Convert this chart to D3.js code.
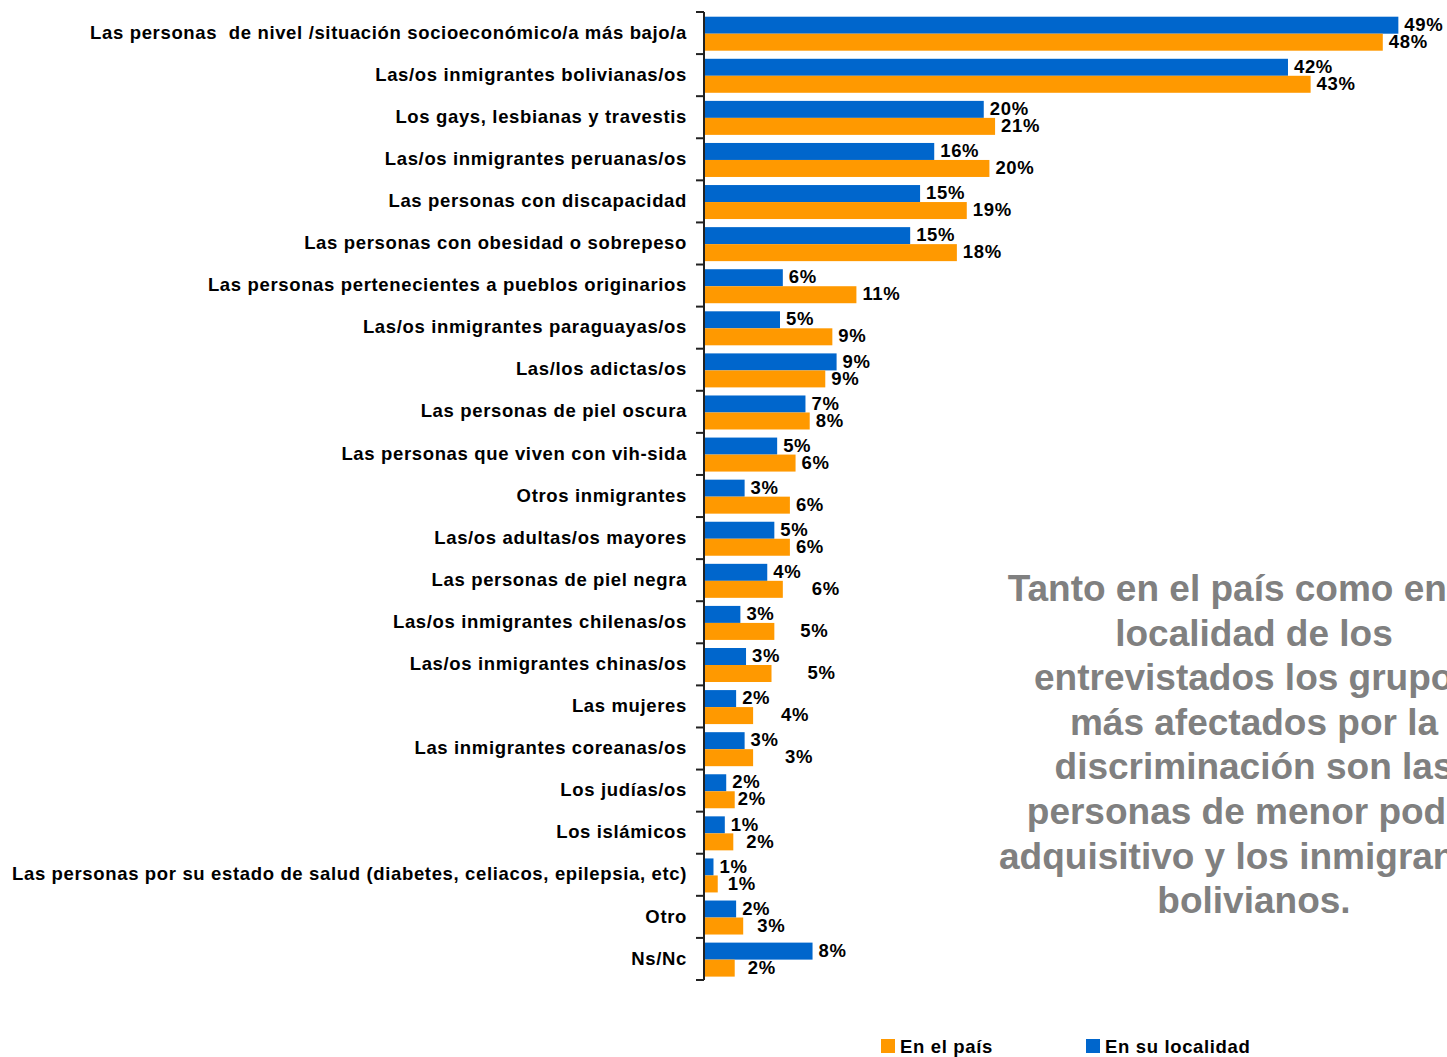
<!DOCTYPE html>
<html>
<head>
<meta charset="utf-8">
<script src="https://cdn.jsdelivr.net/npm/d3@7"></script>
<style>
  body { margin: 0; background: #fff; }
  text { font-family: "Liberation Sans", Arial, sans-serif; font-weight: bold; }
  .cat, .val, .legend text { font-size: 18.5px; letter-spacing: 0.65px; }
</style>
</head>
<body>
<svg id="chart"></svg>
<script>
const width = 1447;
const height = 1057;

// DATA
const categories = [
    'Las personas  de nivel /situación socioeconómico/a más bajo/a',
    'Las/os inmigrantes bolivianas/os',
    'Los gays, lesbianas y travestis',
    'Las/os inmigrantes peruanas/os',
    'Las personas con discapacidad',
    'Las personas con obesidad o sobrepeso',
    'Las personas pertenecientes a pueblos originarios',
    'Las/os inmigrantes paraguayas/os',
    'Las/los adictas/os',
    'Las personas de piel oscura',
    'Las personas que viven con vih-sida',
    'Otros inmigrantes',
    'Las/os adultas/os mayores',
    'Las personas de piel negra',
    'Las/os inmigrantes chilenas/os',
    'Las/os inmigrantes chinas/os',
    'Las mujeres',
    'Las inmigrantes coreanas/os',
    'Los judías/os',
    'Los islámicos',
    'Las personas por su estado de salud (diabetes, celiacos, epilepsia, etc)',
    'Otro',
    'Ns/Nc'
];

// "En su localidad" (blue) and "En el país" (orange), bar lengths in %
const localidad = [49.0, 41.2, 19.7, 16.2, 15.2, 14.5, 5.5, 5.3, 9.3, 7.1, 5.1, 2.8, 4.9, 4.4, 2.5, 2.9, 2.2, 2.8, 1.5, 1.4, 0.6, 2.2, 7.6];
const pais      = [47.9, 42.8, 20.5, 20.1, 18.5, 17.8, 10.7, 9.0, 8.5, 7.4, 6.4, 6.0, 6.0, 5.5, 4.9, 4.7, 3.4, 3.4, 2.1, 2.0, 0.9, 2.7, 2.1];

// printed data labels
const localidadLabels = [49, 42, 20, 16, 15, 15, 6, 5, 9, 7, 5, 3, 5, 4, 3, 3, 2, 3, 2, 1, 1, 2, 8];
const paisLabels      = [48, 43, 21, 20, 19, 18, 11, 9, 9, 8, 6, 6, 6, 6, 5, 5, 4, 3, 2, 2, 1, 3, 2];

// extra horizontal push of some orange labels (as placed in the original)
const paisLabelNudge = [0, 0, 0, 0, 0, 0, 0, 0, 0, 0, 0, 0, 0, 23, 20, 30, 22, 26, -3, 7, 4, 8, 7];

const series = ['En su localidad', 'En el país'];
const colors = { 'En su localidad': '#0066CC', 'En el país': '#FF9900' };

const note = [
    'Tanto en el país como en su',
    'localidad de los',
    'entrevistados los grupos',
    'más afectados por la',
    'discriminación son las',
    'personas de menor poder',
    'adquisitivo y los inmigrantes',
    'bolivianos.'
];

const rows = categories.map((c, i) => ({
    name: c,
    values: [
        { key: series[0], value: localidad[i], label: localidadLabels[i], nudge: 0 },
        { key: series[1], value: pais[i], label: paisLabels[i], nudge: paisLabelNudge[i] }
    ]
}));

// SCALES
const x = d3.scaleLinear().domain([0, 50]).range([705, 1412.5]);
const y = d3.scaleBand().domain(categories).range([12, 980]).padding(0);
const ySub = d3.scaleBand().domain(series).range([4.7, 38.7]).padding(0);

const svg = d3.select('#chart')
    .attr('width', width)
    .attr('height', height);

// BARS
const group = svg.selectAll('.row')
    .data(rows)
    .enter().append('g')
    .attr('class', 'row')
    .attr('transform', d => `translate(0, ${y(d.name)})`);

group.selectAll('rect')
    .data(d => d.values)
    .enter().append('rect')
    .attr('x', x(0))
    .attr('y', d => ySub(d.key))
    .attr('width', d => x(d.value) - x(0))
    .attr('height', ySub.bandwidth())
    .attr('fill', d => colors[d.key]);

group.selectAll('.val')
    .data(d => d.values)
    .enter().append('text')
    .attr('class', 'val')
    .attr('x', d => x(d.value) + 6 + d.nudge)
    .attr('y', d => ySub(d.key) + ySub.bandwidth() / 2 - 1)
    .attr('dy', '0.36em')
    .attr('fill', '#000')
    .text(d => `${d.label}%`);

// CATEGORY LABELS
svg.selectAll('.cat')
    .data(categories)
    .enter().append('text')
    .attr('class', 'cat')
    .attr('x', 687)
    .attr('y', d => y(d) + y.bandwidth() / 2 - 1)
    .attr('dy', '0.36em')
    .attr('text-anchor', 'end')
    .style('white-space', 'pre')
    .attr('fill', '#000')
    .text(d => d);

// AXIS (ticks sit on the band edges)
const edges = categories.map(c => y(c)).concat([y.range()[1]]);
svg.append('line')
    .attr('x1', 704).attr('x2', 704)
    .attr('y1', edges[0]).attr('y2', edges[edges.length - 1])
    .attr('stroke', '#222').attr('stroke-width', 2);
svg.selectAll('.tick')
    .data(edges)
    .enter().append('line')
    .attr('class', 'tick')
    .attr('x1', 696).attr('x2', 704)
    .attr('y1', d => d).attr('y2', d => d)
    .attr('stroke', '#222').attr('stroke-width', 2);

// NOTE
svg.append('text')
    .attr('text-anchor', 'middle')
    .style('font-size', '37px')
    .attr('fill', '#808080')
    .selectAll('tspan')
    .data(note)
    .enter().append('tspan')
    .attr('x', 1254)
    .attr('y', (d, i) => 601 + i * 44.6)
    .text(d => d);

// LEGEND
const legendItems = [
    { key: 'En el país', x: 881 },
    { key: 'En su localidad', x: 1086 }
];
const legend = svg.selectAll('.legend')
    .data(legendItems)
    .enter().append('g')
    .attr('class', 'legend')
    .attr('transform', d => `translate(${d.x}, 1039)`);
legend.append('rect')
    .attr('width', 14).attr('height', 14)
    .attr('fill', d => colors[d.key]);
legend.append('text')
    .attr('x', 19)
    .attr('y', 14)
    .attr('fill', '#000')
    .text(d => d.key);
</script>
</body>
</html>
